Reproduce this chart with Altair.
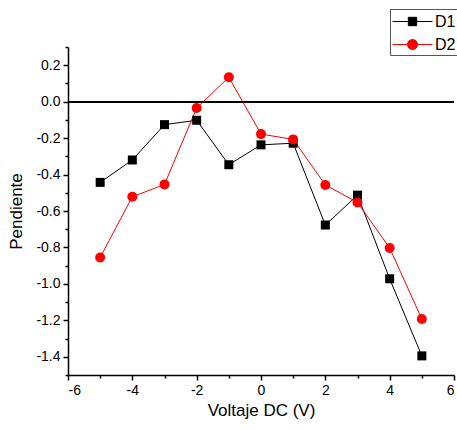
import altair as alt
import pandas as pd

voltaje = [-5, -4, -3, -2, -1, 0, 1, 2, 3, 4, 5]
d1 = [-0.443, -0.32, -0.126, -0.102, -0.346, -0.237, -0.228, -0.677, -0.513, -0.972, -1.395]
d2 = [-0.855, -0.522, -0.454, -0.035, 0.134, -0.178, -0.207, -0.457, -0.553, -0.803, -1.193]
series = ["D1", "D2"]
colors = ["black", "red"]

rows = []
for s, vals in zip(series, [d1, d2]):
    for xv, yv in zip(voltaje, vals):
        rows.append({"x": xv, "y": yv, "serie": s})
df = pd.DataFrame(rows)

FONT = "Liberation Sans"

y_vals = [round(-1.5 + 0.1 * i, 1) for i in range(19)]
x_vals = list(range(-6, 7))

y_major = "abs(datum.value*5 - round(datum.value*5)) < 0.01"

xenc = alt.X(
    "x:Q",
    scale=alt.Scale(domain=[-6, 6], nice=False, zero=False),
    axis=alt.Axis(
        title="Voltaje DC (V)",
        values=x_vals,
        tickCount=100,
        labelExpr="datum.value % 2 == 0 ? '' + datum.value : ''",
        labelOverlap=False,
        tickSize={"condition": {"test": "datum.value % 2 == 0", "value": 5}, "value": 3},
        grid=False,
        domainColor="black",
        domainWidth=1.5,
        tickColor="black",
        tickWidth=1.5,
        labelFont=FONT,
        labelFontSize=14,
        labelColor="black",
        labelPadding=3,
        titleFont=FONT,
        titleFontSize=17,
        titleFontWeight="normal",
        titleColor="black",
        titlePadding=5,
    ),
)
yenc = alt.Y(
    "y:Q",
    scale=alt.Scale(domain=[-1.5, 0.3], nice=False, zero=False),
    axis=alt.Axis(
        title="Pendiente",
        values=y_vals,
        tickCount=100,
        labelExpr="(" + y_major + ") ? ((datum.value < -0.001 ? '-' : '') + format(abs(datum.value), '.1f')) : ''",
        labelOverlap=False,
        tickSize={"condition": {"test": y_major, "value": 5}, "value": 3},
        grid=False,
        domainColor="black",
        domainWidth=1.5,
        tickColor="black",
        tickWidth=1.5,
        labelFont=FONT,
        labelFontSize=14,
        labelColor="black",
        labelPadding=3,
        titleFont=FONT,
        titleFontSize=17,
        titleFontWeight="normal",
        titleColor="black",
        titlePadding=10,
    ),
)

base = alt.Chart(df)

line1 = base.transform_filter("datum.serie == 'D1'").mark_line(strokeWidth=1, color=colors[0]).encode(x=xenc, y=yenc)
line2 = base.transform_filter("datum.serie == 'D2'").mark_line(strokeWidth=1, color=colors[1]).encode(x=xenc, y=yenc)
pts1 = base.transform_filter("datum.serie == 'D1'").mark_square(size=81, opacity=1, color=colors[0]).encode(x=xenc, y=yenc)
pts2 = base.transform_filter("datum.serie == 'D2'").mark_circle(size=100, opacity=1, color=colors[1]).encode(x=xenc, y=yenc)

zero_line = base.mark_rule(color="black", strokeWidth=1.5).encode(y=alt.datum(0))

# legend glyphs: a line segment with the marker in its middle (unit = 10 px)
path_sq = "M-1,0L3,0M0.58,-0.42L1.42,-0.42L1.42,0.42L0.58,0.42Z"
path_ci = "M-1,0L3,0M1.5,0A0.5,0.5,0,1,1,0.5,0A0.5,0.5,0,1,1,1.5,0Z"

leg = alt.Legend(
    title=None,
    orient="none",
    legendX=322,
    legendY=-38,
    strokeColor="#555",
    padding=2,
    symbolSize=400,
    symbolStrokeWidth=1,
    symbolOpacity=1,
    labelFont=FONT,
    labelFontSize=16,
    labelColor="black",
    labelOffset=22,
    rowPadding=4,
)

legend_layer = base.transform_filter("false").mark_point(opacity=0).encode(
    x=xenc, y=yenc,
    fill=alt.Fill("serie:N", scale=alt.Scale(domain=series, range=colors), legend=leg),
    stroke=alt.Stroke("serie:N", scale=alt.Scale(domain=series, range=colors), legend=leg),
    shape=alt.Shape("serie:N", scale=alt.Scale(domain=series, range=[path_sq, path_ci]), legend=leg),
)

chart = (
    alt.layer(line1, line2, zero_line, pts1, pts2, legend_layer)
    .properties(
        width=386,
        height=328,
        autosize=alt.AutoSizeParams(type="none"),
        padding={"left": 68, "top": 47, "right": 3, "bottom": 55},
        background="white",
    )
    .configure_view(stroke=None)
)

chart.save("out.html", embed_options={"renderer": "svg", "actions": False})
